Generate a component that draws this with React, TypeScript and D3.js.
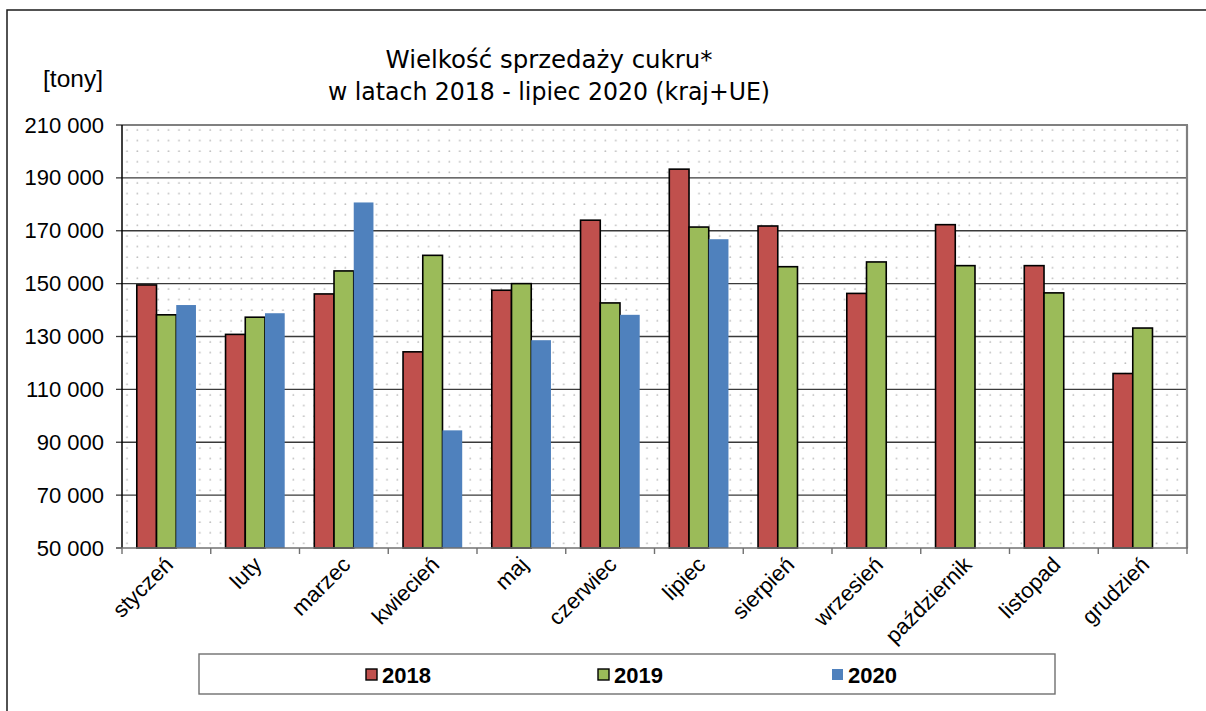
import React from "react";
import * as d3 from "d3";

const months = ["styczeń","luty","marzec","kwiecień","maj","czerwiec","lipiec","sierpień","wrzesień","październik","listopad","grudzień"];
const series = ["2018","2019","2020"];
const v2018 = [149500,130800,146100,124200,147500,174000,193300,171800,146300,172300,156800,116000];
const v2019 = [138200,137300,154800,160700,150000,142700,171400,156400,158200,156800,146500,133200];
const v2020: (number|null)[] = [141900,138800,180700,94500,128600,138200,166800,null,null,null,null,null];
const yTicks = [50000,70000,90000,110000,130000,150000,170000,190000,210000];
const colors = ["#C0504D","#9BBB59","#4F81BD"];
const strokes = ["#000","#000","none"];

const W = 1206, H = 711;
const M = { left: 122, right: 1187, top: 125, bottom: 548 };

export default function App() {
  const x = d3.scaleBand<string>().domain(months).range([M.left, M.right]).paddingInner(0).paddingOuter(0);
  const inner = d3.scaleBand<string>().domain(series).range([0, x.bandwidth()]).paddingInner(0).paddingOuter(0.75);
  const y = d3.scaleLinear().domain([50000, 210000]).range([M.bottom, M.top]);
  const fmt = (v: number) => d3.format(",")(v).replace(/,/g, " ");
  const data = [v2018, v2019, v2020];
  const boundaries = d3.range(13).map(i => M.left + i * x.bandwidth());
  const axisFont = "'Liberation Sans', Arial, sans-serif";
  const titleFont = "'Comic Sans MS', 'DejaVu Sans', sans-serif";
  const legendX = [[366, 382], [598, 614], [832, 848]];

  return (
    <svg width={W} height={H} style={{ position: "absolute", left: 0, top: 0 }} xmlns="http://www.w3.org/2000/svg">
      <defs>
        <pattern id="dots" x={M.left} y={M.top} width={10.4} height={10.6} patternUnits="userSpaceOnUse">
          <rect width={10.4} height={10.6} fill="#fff" />
          <circle cx={5} cy={5} r={0.9} fill="#bdbdbd" />
        </pattern>
      </defs>
      <rect x={0} y={0} width={W} height={H} fill="#fff" />
      <rect x={7} y={10} width={W + 10} height={H + 10} fill="#fff" stroke="#1a1a1a" strokeWidth={1.5} />

      <text x={549} y={68} textAnchor="middle" fontFamily={titleFont} fontSize={24} fill="#000" textLength={327} lengthAdjust="spacingAndGlyphs">Wielkość sprzedaży cukru*</text>
      <text x={549} y={100} textAnchor="middle" fontFamily={titleFont} fontSize={24} fill="#000" textLength={442} lengthAdjust="spacingAndGlyphs">w latach 2018 - lipiec 2020 (kraj+UE)</text>

      <text x={103} y={87} textAnchor="end" fontFamily={axisFont} fontSize={24.5} fill="#000">[tony]</text>

      <rect x={M.left} y={M.top} width={M.right - M.left} height={M.bottom - M.top} fill="url(#dots)" />

      {yTicks.map(t => (
        <g key={t}>
          {t > 50000 && t < 210000 && <line x1={M.left} x2={M.right} y1={y(t)} y2={y(t)} stroke="#3a3a3a" strokeWidth={1.3} />}
          <line x1={116} x2={M.left} y1={y(t)} y2={y(t)} stroke="#3a3a3a" strokeWidth={1.3} />
          <text x={104} y={y(t) + 7.5} textAnchor="end" fontFamily={axisFont} fontSize={22} fill="#000">{fmt(t)}</text>
        </g>
      ))}

      <line x1={M.left} x2={M.right + 1} y1={M.top} y2={M.top} stroke="#808080" strokeWidth={2.2} />
      <line x1={M.right} x2={M.right} y1={M.top} y2={M.bottom} stroke="#808080" strokeWidth={2.2} />

      {months.map((m, i) => (
        <g key={m}>
          {series.map((s, j) => {
            const v = data[j][i];
            if (v == null) return null;
            const bx = (x(m) as number) + (inner(s) as number);
            return (
              <rect key={s} x={bx} y={y(v)} width={inner.bandwidth()} height={M.bottom - y(v)}
                fill={colors[j]} stroke={strokes[j]} strokeWidth={strokes[j] === "none" ? 0 : 1.6} />
            );
          })}
        </g>
      ))}

      <line x1={M.left} x2={M.left} y1={M.top} y2={M.bottom} stroke="#000" strokeWidth={1.5} />
      <line x1={M.left - 6} x2={M.right + 1} y1={M.bottom} y2={M.bottom} stroke="#707070" strokeWidth={1.6} />
      {boundaries.map((b, i) => (
        <line key={i} x1={b} x2={b} y1={M.bottom} y2={M.bottom + 6} stroke="#707070" strokeWidth={1.4} />
      ))}

      {months.map(m => {
        const cx = (x(m) as number) + x.bandwidth() / 2 + 8;
        const cy = 566;
        return (
          <text key={m} x={cx} y={cy} textAnchor="end" fontFamily={axisFont} fontSize={22} fill="#000"
            transform={`rotate(-45 ${cx} ${cy})`}>{m}</text>
        );
      })}

      <rect x={199} y={654} width={856} height={40} fill="#fff" stroke="#707070" strokeWidth={1.4} />
      {series.map((s, j) => (
        <g key={s}>
          <rect x={legendX[j][0]} y={669} width={11} height={11} fill={colors[j]} stroke={strokes[j] === "none" ? "none" : "#000"} strokeWidth={1.4} />
          <text x={legendX[j][1]} y={683} fontFamily={axisFont} fontWeight="bold" fontSize={22} fill="#000">{s}</text>
        </g>
      ))}
    </svg>
  );
}
